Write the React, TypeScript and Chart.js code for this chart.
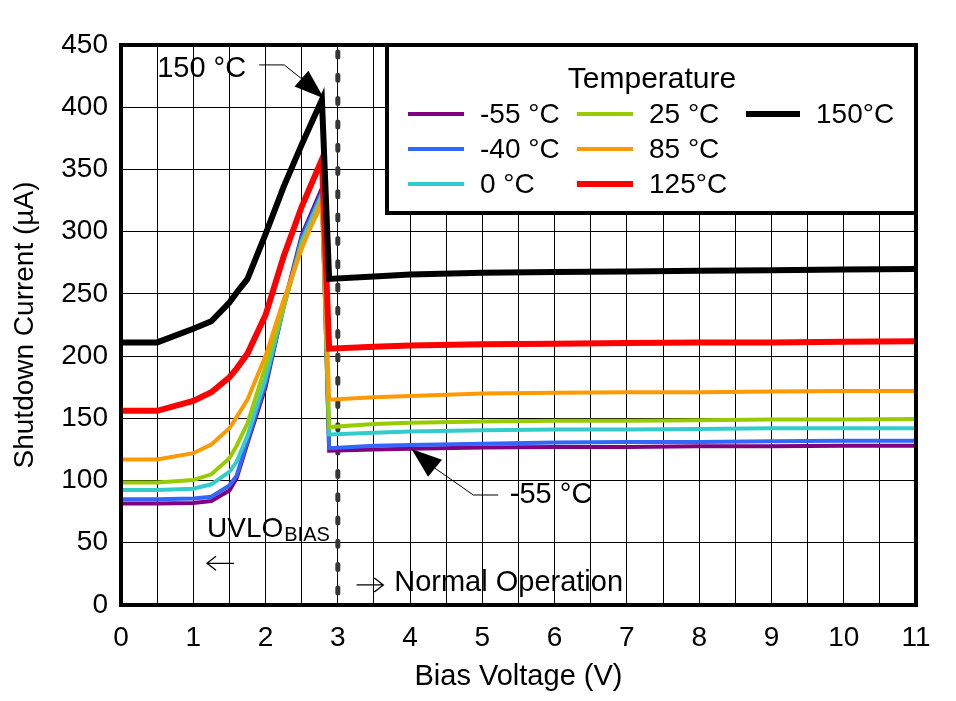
import React, { useEffect, useRef } from "react";
import { Chart, registerables } from "chart.js";
Chart.register(...registerables);

// ---- data ----
const biasVoltage = [0, 0.5, 1.0, 1.25, 1.5, 1.6, 1.75, 2.0, 2.25, 2.5, 2.78, 2.88, 3.5, 4, 5, 6, 7, 8, 9, 10, 11];
const iM55 = [81.5, 81.5, 82, 83.5, 92, 102, 130, 175, 240, 297, 335, 124, 125, 125.5, 126.5, 127, 127, 127.5, 127.5, 128, 128];
const iM40 = [85, 85, 85.5, 87, 96, 104, 132, 178, 239, 295, 332, 126, 128, 128.5, 129.5, 130.5, 131, 131, 131.5, 132, 132];
const i0 = [92.5, 92.5, 93.5, 97, 107, 115, 136, 182, 239, 292, 330, 137, 138.5, 139.5, 140.5, 141, 141, 141.5, 142, 142, 142];
const i25 = [98.5, 98.5, 100.5, 105, 118, 128, 146, 192, 240, 289, 322, 143, 145.5, 146.5, 147.5, 148, 148, 148.5, 149, 149, 149.5];
const i85 = [117, 117, 122, 129, 142, 151, 165, 200, 245, 286, 326, 165, 167, 168, 170, 170.5, 171, 171, 171.5, 172, 172];
const i125 = [156, 156, 164, 171, 183, 190, 202, 233, 280, 320, 358, 206, 207.5, 208.5, 209.5, 210, 210.5, 211, 211, 211.5, 212];
const i150 = [211, 211, 222, 228, 243, 251, 262, 298, 336, 370, 406, 262, 264, 265.5, 267, 267.5, 268, 268.5, 269, 269.5, 270];

const seriesValues = [iM55, iM40, i0, i25, i85, i125, i150];
const seriesLabels = ["-55 °C", "-40 °C", "0 °C", "25 °C", "85 °C", "125°C", "150°C"];
const seriesColors = ["#800080", "#3366FF", "#33CCCC", "#99CC00", "#FF9900", "#FF0000", "#000000"];
const seriesWidths = [4, 4, 4, 4, 4, 6, 6];

const xTickLabels = ["0", "1", "2", "3", "4", "5", "6", "7", "8", "9", "10", "11"];
const yTickLabels = ["0", "50", "100", "150", "200", "250", "300", "350", "400", "450"];

const dividerVoltage = 3;
const FONT = "'Liberation Sans', Arial, sans-serif";

function arrowHead(ctx: CanvasRenderingContext2D, bx: number, by: number, tx: number, ty: number, halfW: number) {
  const dx = tx - bx, dy = ty - by;
  const len = Math.hypot(dx, dy);
  const nx = -dy / len, ny = dx / len;
  ctx.beginPath();
  ctx.moveTo(tx, ty);
  ctx.lineTo(bx + nx * halfW, by + ny * halfW);
  ctx.lineTo(bx - nx * halfW, by - ny * halfW);
  ctx.closePath();
  ctx.fill();
}

const overlay = {
  id: "overlay",
  beforeDatasetsDraw(chart: any) {
    const { ctx, chartArea: a, scales } = chart;
    const px = scales.x.getPixelForValue(dividerVoltage);
    ctx.save();
    ctx.strokeStyle = "#363636";
    ctx.lineWidth = 5;
    ctx.lineCap = "round";
    ctx.setLineDash([5, 18.3]);
    ctx.beginPath();
    ctx.moveTo(px, a.top + 7);
    ctx.lineTo(px, a.bottom);
    ctx.stroke();
    ctx.restore();
  },
  afterDraw(chart: any) {
    const { ctx, chartArea: a, scales } = chart;
    const X = (v: number) => scales.x.getPixelForValue(v);
    const Y = (v: number) => scales.y.getPixelForValue(v);
    ctx.save();

    // legend box
    const lx = 387, ly = a.top, lr = a.right, lb = 213;
    ctx.fillStyle = "#fff";
    ctx.fillRect(lx, ly, lr - lx, lb - ly);
    ctx.strokeStyle = "#000";
    ctx.lineWidth = 4;
    ctx.strokeRect(lx, ly, lr - lx, lb - ly);
    ctx.fillStyle = "#000";
    ctx.font = `30px ${FONT}`;
    ctx.textBaseline = "middle";
    ctx.textAlign = "center";
    ctx.fillText("Temperature", 652, 80);
    ctx.textAlign = "left";
    ctx.font = `28px ${FONT}`;
    const cols = [
      { lineX: 408, lineR: 464, textX: 480 },
      { lineX: 577, lineR: 633, textX: 649 },
      { lineX: 746, lineR: 800, textX: 816 },
    ];
    const rows = [114, 149, 184];
    seriesLabels.forEach((lab, i) => {
      const c = cols[Math.floor(i / 3)];
      const r = rows[i % 3];
      ctx.strokeStyle = seriesColors[i];
      ctx.lineWidth = seriesWidths[i];
      ctx.beginPath();
      ctx.moveTo(c.lineX, r);
      ctx.lineTo(c.lineR, r);
      ctx.stroke();
      ctx.fillStyle = "#000";
      ctx.fillText(lab, c.textX, r + 1);
    });

    // 150 °C annotation
    ctx.fillStyle = "#000";
    ctx.strokeStyle = "#000";
    ctx.lineWidth = 1;
    ctx.textBaseline = "alphabetic";
    ctx.font = `29px ${FONT}`;
    ctx.fillText("150 °C", X(0.5), Y(424));
    ctx.beginPath();
    ctx.moveTo(X(1.913), Y(434));
    ctx.lineTo(X(2.259), Y(434));
    ctx.lineTo(X(2.497), Y(423));
    ctx.stroke();
    arrowHead(ctx, X(2.497), Y(423), X(2.81), Y(407), 10.5);

    // -55 °C annotation
    ctx.textBaseline = "middle";
    ctx.fillText("-55 °C", X(5.38), Y(88.4));
    ctx.beginPath();
    ctx.moveTo(X(5.22), Y(88.4));
    ctx.lineTo(X(4.875), Y(88.4));
    ctx.lineTo(X(4.345), Y(109.9));
    ctx.stroke();
    arrowHead(ctx, X(4.345), Y(109.9), X(4.02), Y(125.3), 11);

    // UVLO BIAS
    ctx.textBaseline = "alphabetic";
    ctx.font = `28px ${FONT}`;
    ctx.fillText("UVLO", X(1.19), Y(54.9));
    const w = ctx.measureText("UVLO").width;
    ctx.font = `20px ${FONT}`;
    ctx.fillText("BIAS", X(1.19) + w + 1, Y(51.4));
    // left arrow
    ctx.lineWidth = 1.3;
    ctx.beginPath();
    ctx.moveTo(X(1.19), Y(33.5));
    ctx.lineTo(X(1.564), Y(33.5));
    ctx.moveTo(X(1.19) + 9, Y(33.5) - 7);
    ctx.lineTo(X(1.19), Y(33.5));
    ctx.lineTo(X(1.19) + 9, Y(33.5) + 7);
    ctx.stroke();
    // right arrow + Normal Operation
    ctx.beginPath();
    ctx.moveTo(X(3.26), Y(16.1));
    ctx.lineTo(X(3.63), Y(16.1));
    ctx.moveTo(X(3.63) - 9, Y(16.1) - 7);
    ctx.lineTo(X(3.63), Y(16.1));
    ctx.lineTo(X(3.63) - 9, Y(16.1) + 7);
    ctx.stroke();
    ctx.font = `29px ${FONT}`;
    ctx.fillText("Normal Operation", X(3.78), Y(11.5));

    // frame
    ctx.strokeStyle = "#000";
    ctx.lineWidth = 4;
    ctx.strokeRect(a.left, a.top, a.right - a.left, a.bottom - a.top);
    ctx.restore();
  },
};

export default function App() {
  const ref = useRef<HTMLCanvasElement>(null);
  useEffect(() => {
    if (!ref.current) return;
    const chart = new Chart(ref.current, {
      type: "line",
      data: {
        datasets: seriesValues.map((vals, i) => ({
          label: seriesLabels[i],
          data: biasVoltage.map((v, k) => ({ x: v, y: vals[k] })),
          borderColor: seriesColors[i],
          backgroundColor: seriesColors[i],
          borderWidth: seriesWidths[i],
          pointRadius: 0,
          tension: 0,
          fill: false,
          order: seriesValues.length - 1 - i,
        })),
      },
      options: {
        animation: false,
        responsive: false,
        maintainAspectRatio: false,
        layout: { padding: { left: 0, top: 45, right: 40, bottom: 0 } },
        plugins: { legend: { display: false }, tooltip: { enabled: false } },
        scales: {
          x: {
            type: "linear",
            min: 0,
            max: 11,
            afterFit: (s: any) => { s.height = 96; },
            ticks: {
              stepSize: 0.5,
              autoSkip: false,
              maxRotation: 0,
              padding: 16,
              color: "#000",
              font: { family: FONT, size: 28 },
              callback: (v: any) => (Number.isInteger(v) ? xTickLabels[v] : ""),
            },
            grid: { color: "#000", lineWidth: 1, drawTicks: false },
            border: { display: false },
            title: {
              display: true,
              text: "Bias Voltage (V)",
              color: "#000",
              font: { family: FONT, size: 29 },
              padding: { top: 0, bottom: 7 },
            },
          },
          y: {
            min: 0,
            max: 450,
            afterFit: (s: any) => { s.width = 121; },
            ticks: {
              stepSize: 50,
              padding: 13,
              color: "#000",
              font: { family: FONT, size: 28 },
              callback: (v: any) => yTickLabels[Math.round(v / 50)],
            },
            grid: { color: "#000", lineWidth: 1, drawTicks: false },
            border: { display: false },
            title: {
              display: true,
              text: "Shutdown Current (µA)",
              color: "#000",
              font: { family: FONT, size: 28 },
              padding: { top: 8, bottom: 0 },
            },
          },
        },
      },
      plugins: [overlay],
    });
    return () => chart.destroy();
  }, []);
  return (
    <div style={{ position: "absolute", left: 0, top: 0, width: 956, height: 701 }}>
      <canvas ref={ref} width={956} height={701} />
    </div>
  );
}
